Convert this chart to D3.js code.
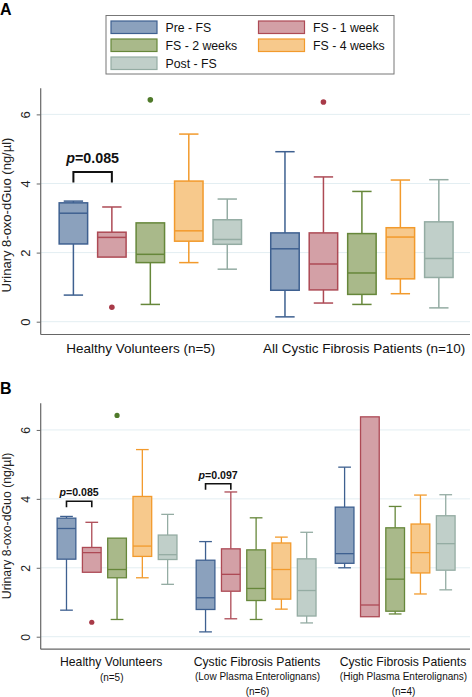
<!DOCTYPE html>
<html><head><meta charset="utf-8">
<script src="https://cdn.jsdelivr.net/npm/d3@7"></script>
<style>
html,body{margin:0;padding:0;background:#fff;}
svg{display:block;font-family:"Liberation Sans",Arial,sans-serif;}
</style></head>
<body>
<svg id="chart" width="472" height="697"></svg>
<script>
// ---------- DATA ----------
const series = ["Pre - FS", "FS - 1 week", "FS - 2 weeks", "FS - 4 weeks", "Post - FS"];
const fills   = ["#8ba1bd", "#d3a0a6", "#a9b98a", "#f7c98c", "#c0cfc9"];
const strokes = ["#3e6090", "#ad4a55", "#66873a", "#f29a2c", "#94aca3"];
const dotColors = ["#3e6090", "#a83a48", "#4f7a2a", "#f29a2c", "#94aca3"];

const yTicks = [0, 2, 4, 6];

// each box: [low whisker, Q1, median, Q3, high whisker]
const healthyBoxes = [
  [0.77, 2.25, 3.14, 3.44, 3.49],
  [1.87, 1.87, 2.44, 2.59, 3.32],
  [0.50, 1.71, 1.95, 2.86, 2.86],
  [1.71, 2.33, 2.63, 4.07, 5.43],
  [1.52, 2.24, 2.38, 2.95, 3.55]
];
const healthyOutliers = [[], [0.42], [6.42], [], []];

const allCFBoxes = [
  [0.14, 0.91, 2.11, 2.57, 4.92],
  [0.54, 0.92, 1.67, 2.57, 4.19],
  [0.50, 0.79, 1.41, 2.55, 3.77],
  [0.81, 1.24, 2.45, 2.72, 4.10],
  [0.40, 1.28, 1.83, 2.89, 4.11]
];
const allCFOutliers = [[], [6.36], [], [], []];

const lowCFBoxes = [
  [0.14, 0.79, 1.13, 2.22, 2.76],
  [0.52, 1.32, 1.81, 2.55, 4.20],
  [0.50, 1.05, 1.40, 2.52, 3.45],
  [0.80, 1.09, 1.95, 2.72, 2.89],
  [0.40, 0.60, 1.34, 2.26, 3.03]
];
const lowCFOutliers = [[], [], [], [], []];

const highCFBoxes = [
  [2.00, 2.13, 2.41, 3.76, 4.92],
  [0.58, 0.58, 0.92, 6.38, 6.38],
  [0.66, 0.74, 1.67, 3.16, 3.78],
  [1.24, 1.85, 2.44, 3.27, 4.11],
  [1.36, 1.93, 2.70, 3.51, 4.12]
];
const highCFOutliers = [[], [], [], [], []];

const groupsA = ["Healthy Volunteers (n=5)", "All Cystic Fibrosis Patients (n=10)"];
const groupsB = [
  ["Healthy Volunteers", "(n=5)"],
  ["Cystic Fibrosis Patients", "(Low Plasma Enterolignans)", "(n=6)"],
  ["Cystic Fibrosis Patients", "(High Plasma Enterolignans)", "(n=4)"]
];
const pValuesA = ["0.085"];
const pValuesB = ["0.085", "0.097"];
const yTitle = "Urinary 8-oxo-dGuo (ng/µl)";

// ---------- DRAW ----------
const svg = d3.select("#chart");

function drawPanel(cfg) {
  const g = svg.append("g");
  const y = d3.scaleLinear().domain(cfg.yDomain).range([cfg.bottom, cfg.top]);
  const x = d3.scaleLinear().domain(cfg.xDomain).range([cfg.left, cfg.right]);
  const slot = x(1) - x(0);
  const bw = slot * 0.74;
  const capW = bw * 0.68;

  // gridlines
  g.append("g").selectAll("line").data(yTicks).join("line")
    .attr("x1", cfg.left).attr("x2", cfg.right)
    .attr("y1", d => y(d)).attr("y2", d => y(d))
    .attr("stroke", "#e3eef2").attr("stroke-width", 1);

  // y axis
  const yAxis = d3.axisLeft(y).tickValues(yTicks).tickSize(4).tickPadding(0).tickFormat(d3.format("d"));
  const ya = g.append("g").attr("transform", `translate(${cfg.left},0)`).call(yAxis);
  ya.select(".domain").attr("stroke", "#666").attr("stroke-width", 1.2)
    .attr("d", `M0,${cfg.top}V${cfg.bottom + 0.5}`);
  ya.selectAll(".tick line").attr("stroke", "#666");
  ya.selectAll(".tick text")
    .attr("font-size", cfg.tickFont).attr("fill", "#222")
    .attr("x", 0).attr("dy", 0).attr("y", 0)
    .attr("text-anchor", "middle")
    .attr("transform", `translate(${cfg.tickX - cfg.left},0) rotate(-90)`);
  // x axis line
  g.append("line").attr("x1", cfg.left).attr("x2", cfg.right)
    .attr("y1", cfg.bottom + 0.5).attr("y2", cfg.bottom + 0.5)
    .attr("stroke", "#666").attr("stroke-width", 1.2);

  // y title
  g.append("text").attr("transform", `translate(${cfg.titleX},${cfg.titleY}) rotate(-90)`)
    .attr("text-anchor", "middle").attr("font-size", cfg.titleFont).attr("fill", "#222")
    .text(yTitle);

  // boxes
  cfg.groups.forEach((grp, gi) => {
    grp.boxes.forEach((b, si) => {
      const cx = x(grp.start + si);
      const [lo, q1, md, q3, hi] = b;
      const bg = g.append("g");
      const sw = cfg.sw;
      // whiskers
      if (hi > q3) {
        bg.append("line").attr("x1", cx).attr("x2", cx).attr("y1", y(q3)).attr("y2", y(hi))
          .attr("stroke", strokes[si]).attr("stroke-width", sw);
        bg.append("line").attr("x1", cx - capW / 2).attr("x2", cx + capW / 2).attr("y1", y(hi)).attr("y2", y(hi))
          .attr("stroke", strokes[si]).attr("stroke-width", sw);
      }
      if (lo < q1) {
        bg.append("line").attr("x1", cx).attr("x2", cx).attr("y1", y(q1)).attr("y2", y(lo))
          .attr("stroke", strokes[si]).attr("stroke-width", sw);
        bg.append("line").attr("x1", cx - capW / 2).attr("x2", cx + capW / 2).attr("y1", y(lo)).attr("y2", y(lo))
          .attr("stroke", strokes[si]).attr("stroke-width", sw);
      }
      bg.append("rect").attr("x", cx - bw / 2).attr("width", bw)
        .attr("y", y(q3)).attr("height", y(q1) - y(q3))
        .attr("fill", fills[si]).attr("stroke", strokes[si]).attr("stroke-width", sw);
      bg.append("line").attr("x1", cx - bw / 2).attr("x2", cx + bw / 2).attr("y1", y(md)).attr("y2", y(md))
        .attr("stroke", strokes[si]).attr("stroke-width", sw);
      grp.outliers[si].forEach(v => {
        bg.append("circle").attr("cx", cx).attr("cy", y(v)).attr("r", cfg.dotR).attr("fill", dotColors[si]);
      });
    });
  });

  // p-value brackets
  cfg.brackets.forEach(br => {
    const x1 = x(br.a), x2 = x(br.b);
    const yt = y(br.level), yb = yt + cfg.legH;
    g.append("path").attr("d", `M${x1},${yb}V${yt}H${x2}V${yb}`)
      .attr("fill", "none").attr("stroke", "#111").attr("stroke-width", cfg.brW);
    const t = g.append("text").attr("x", (x1 + x2) / 2).attr("y", yt - cfg.pGap)
      .attr("text-anchor", "middle").attr("font-size", cfg.pFont).attr("font-weight", "bold").attr("fill", "#111");
    t.append("tspan").attr("font-style", "italic").text("p");
    t.append("tspan").text("=" + br.p);
  });

  return {x, y};
}

// Panel A
svg.append("text").attr("x", 0).attr("y", 15).attr("font-size", 16).attr("font-weight", "bold").text("A");

// legend
const leg = svg.append("g");
leg.append("rect").attr("x", 106).attr("y", 15.5).attr("width", 288).attr("height", 58.5)
  .attr("fill", "#fff").attr("stroke", "#777").attr("stroke-width", 1);
series.forEach((s, i) => {
  const col = i % 2, row = Math.floor(i / 2);
  const sx = 111 + col * 147.5, sy = 21 + row * 18;
  leg.append("rect").attr("x", sx).attr("y", sy).attr("width", 46).attr("height", 12.5)
    .attr("fill", fills[i]).attr("stroke", strokes[i]).attr("stroke-width", 1.2);
  leg.append("text").attr("x", sx + 54.5).attr("y", sy + 11).attr("font-size", 12.3).attr("fill", "#111").text(s);
});

const A = drawPanel({
  top: 88.3, bottom: 334, left: 40.7, right: 470,
  yDomain: [-0.356, 6.755], xDomain: [-0.85, 10.31],
  tickFont: 13, tickX: 30, titleX: 11, titleY: 215, titleFont: 13,
  sw: 1.5, dotR: 2.8, legH: 10.5, brW: 2, pFont: 14.3, pGap: 9,
  groups: [
    {start: 0, boxes: healthyBoxes, outliers: healthyOutliers},
    {start: 5.5, boxes: allCFBoxes, outliers: allCFOutliers}
  ],
  brackets: [{a: 0, b: 1, level: 4.33, p: pValuesA[0]}]
});
// group labels A
const labelXA = [140.8, 364.2];
groupsA.forEach((lab, i) => {
  svg.append("text").attr("x", labelXA[i]).attr("y", 352.5).attr("text-anchor", "middle")
    .attr("font-size", 13.5).attr("fill", "#111").text(lab);
});

// Panel B
svg.append("text").attr("x", 0).attr("y", 393.5).attr("font-size", 16).attr("font-weight", "bold").text("B");
const B = drawPanel({
  top: 403.3, bottom: 648.7, left: 40.7, right: 470,
  yDomain: [-0.348, 6.773], xDomain: [-1.02, 15.96],
  tickFont: 12.3, tickX: 29.5, titleX: 11, titleY: 526, titleFont: 12.3,
  sw: 1.3, dotR: 2.6, legH: 6, brW: 1.6, pFont: 10.6, pGap: 5,
  groups: [
    {start: 0, boxes: healthyBoxes, outliers: healthyOutliers},
    {start: 5.5, boxes: lowCFBoxes, outliers: lowCFOutliers},
    {start: 11, boxes: highCFBoxes, outliers: highCFOutliers}
  ],
  brackets: [
    {a: 0, b: 1, level: 3.93, p: pValuesB[0]},
    {a: 5.5, b: 6.5, level: 4.44, p: pValuesB[1]}
  ]
});
const labelXB = [111.2, 257, 403];
groupsB.forEach((lines, i) => {
  lines.forEach((ln, j) => {
    const main = j === 0;
    svg.append("text").attr("x", labelXB[i] + (main ? 0 : 0.5))
      .attr("y", main ? 666 : (j === 1 ? (lines.length === 2 ? 680.5 : 680.3) : 694.5))
      .attr("text-anchor", "middle").attr("font-size", main ? 12.2 : 10).attr("fill", "#111").text(ln);
  });
});
</script>
</body></html>
